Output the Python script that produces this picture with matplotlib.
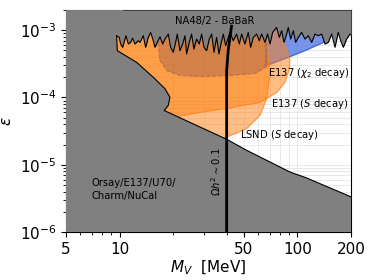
import numpy as np
import matplotlib
matplotlib.use("Agg")
import matplotlib.pyplot as plt
from matplotlib.ticker import FixedLocator, FixedFormatter, NullFormatter

# ---------------- data ----------------
# NA48/2 - BaBaR upper bound (jagged line)
na48_m = [9.63, 9.96, 10.14, 10.41, 10.73, 10.87, 11.20, 11.54, 11.84, 12.21, 12.74, 13.02,
          13.60, 14.02, 14.51, 14.95, 15.48, 15.82, 16.30, 16.87, 17.47, 18.0, 18.79, 19.37,
          20.05, 20.66, 21.11, 21.86, 22.63, 23.32, 23.83, 24.66, 25.42, 26.19, 27.12, 28.07,
          28.93, 29.82, 30.87, 31.95, 32.94, 33.95, 35.13, 36.21, 37.16, 38.30, 39.48, 41.75,
          43.59, 45.51, 47.1, 48.56, 50.69, 52.93, 54.55, 56.47, 58.96, 61.03, 62.9, 65.68,
          67.98, 70.07, 72.53, 76.38, 79.07, 81.5, 84.0, 86.94, 88.84, 91.6, 94.78, 97.7,
          101.1, 105.6, 110.2, 115.1, 120.2, 125.5, 131.0, 136.8, 142.8, 149.1, 155.7, 162.6,
          169.7, 174.9, 181.1, 189.1, 197.4, 200.0]
na48_eps = [8.29e-4, 7.83e-4, 6.24e-4, 5.57e-4, 7.40e-4, 8.29e-4, 6.24e-4, 6.60e-4, 7.65e-4,
            6.24e-4, 6.99e-4, 6.60e-4, 8.29e-4, 5.57e-4, 7.83e-4, 9.29e-4, 6.99e-4, 5.57e-4,
            6.60e-4, 8.0e-4, 6.24e-4, 7.40e-4, 8.77e-4, 5.57e-4, 4.70e-4, 6.60e-4, 8.77e-4,
            4.97e-4, 6.24e-4, 8.29e-4, 4.44e-4, 6.60e-4, 8.77e-4, 5.26e-4, 7.40e-4, 6.24e-4,
            8.77e-4, 5.57e-4, 4.97e-4, 7.40e-4, 8.77e-4, 4.70e-4, 7.83e-4, 4.44e-4, 6.24e-4,
            8.77e-4, 5.90e-4, 9.29e-4, 6.99e-4, 8.77e-4, 6.24e-4, 8.77e-4, 6.24e-4, 9.29e-4,
            5.57e-4, 7.83e-4, 8.77e-4, 6.99e-4, 8.77e-4, 6.60e-4, 8.77e-4, 6.24e-4, 9.29e-4,
            1.10e-3, 7.83e-4, 9.83e-4, 6.60e-4, 8.77e-4, 1.10e-3, 7.40e-4, 9.83e-4, 6.60e-4,
            7.83e-4, 9.29e-4, 7.40e-4, 8.29e-4, 6.60e-4, 8.77e-4, 8.29e-4, 8.77e-4, 6.24e-4,
            6.60e-4, 8.77e-4, 5.57e-4, 9.29e-4, 6.99e-4, 5.57e-4, 7.40e-4, 8.77e-4, 8.5e-4]

# Orsay/E137/U70/Charm/NuCal lower boundary
beam_m = [9.63, 9.71, 12.48, 15.47, 18.0, 19.2, 18.78, 17.83, 40.0, 51.8, 90.7, 112.5, 200.0]
beam_eps = [8.29e-4, 4.97e-4, 3.33e-4, 2.0e-4, 1.35e-4, 1.01e-4, 7.6e-5, 6.4e-5, 2.39e-5,
            1.64e-5, 7.8e-6, 6.37e-6, 3.33e-6]

# E137 (chi2 decay) region outline
e137chi_m = [9.0, 16.87, 19.96, 28.3, 40.0, 61.5, 76.6, 85.0, 89.5, 90.7, 87.2, 80.7, 74.7, 71.0, 9.0]
e137chi_eps = [1.4e-5, 4.56e-5, 5.06e-5, 6.0e-5, 6.87e-5, 8.43e-5, 1.19e-4, 1.67e-4, 2.51e-4,
               3.53e-4, 5.32e-4, 7.48e-4, 1.05e-3, 1.4e-3, 1.4e-3]

# E137 / LSND (S decay) region outline
sdec_m = [63.1, 63.9, 66.2, 68.2, 70.0, 67.1, 61.5, 51.8, 40.0, 36.7, 30.0, 9.0, 9.0]
sdec_eps = [1.4e-3, 1.09e-3, 6.98e-4, 4.19e-4, 2.12e-4, 9.57e-5, 5.41e-5, 3.44e-5, 2.58e-5,
            2.44e-5, 1.5e-5, 1.5e-5, 1.4e-3]

# dashed (darker) region
dash_m = [16.2, 16.4, 16.87, 18.4, 21.85, 28.3, 41.7, 57.7, 67.3, 66.5]
dash_eps = [1.2e-3, 7.48e-4, 3.53e-4, 2.51e-4, 2.12e-4, 2.05e-4, 2.12e-4, 2.27e-4, 2.88e-4, 1.4e-3]

# blue region lower boundary
blue_m = [65.6, 85.0, 110.1, 138.9, 148.3]
blue_eps = [2.93e-4, 3.79e-4, 4.97e-4, 6.53e-4, 7.48e-4]

# relic density line
relic_m = [40.0, 40.0, 40.8, 42.6]
relic_eps = [1e-6, 2.5e-4, 5e-4, 1.15e-3]

xticks = [5, 10, 50, 100, 200]
xticklabels = ["5", "10", "50", "100", "200"]

# ---------------- figure ----------------
fig = plt.figure(figsize=(3.74, 2.8), dpi=100)
ax = fig.add_axes([66/374, 1-232/280, 285/374, 222/280])
ax.set_xscale("log")
ax.set_yscale("log")
ax.set_xlim(5, 200)
ax.set_ylim(1e-6, 2e-3)

ax.grid(True, which="both", color="#e4e4e4", lw=0.6, zorder=0)
ax.set_axisbelow(True)

orange = "#ff7f0e"
# blue region
bm = blue_m + [blue_m[-1], blue_m[0]]
be = blue_eps + [1.4e-3, 1.4e-3]
ax.fill(bm, be, color="royalblue", alpha=0.7, lw=0, zorder=1)
ax.plot(blue_m, blue_eps, color="royalblue", lw=1.0, zorder=1.1)

ax.fill(e137chi_m, e137chi_eps, color=orange, alpha=0.5, lw=0, zorder=2)
ax.plot(e137chi_m, e137chi_eps, color=orange, lw=0.8, alpha=0.8, zorder=2)
ax.fill(sdec_m, sdec_eps, color=orange, alpha=0.5, lw=0, zorder=2.1)
ax.plot(sdec_m, sdec_eps, color=orange, lw=0.8, alpha=0.8, zorder=2.1)
ax.fill(dash_m, dash_eps, color="#8c564b", alpha=0.38, lw=0, zorder=2.2)
ax.plot(dash_m, dash_eps, color="#8c564b", lw=0.8, ls="--", alpha=0.5, zorder=2.2)

# grey excluded regions
ax.fill_between(na48_m, na48_eps, 2e-3, color="grey", lw=0, zorder=3)
ax.plot(na48_m, na48_eps, color="black", lw=0.8, zorder=3.1)
bm2 = [5.0, 10.5] + beam_m + [200.0, 5.0]
be2 = [2e-3, 2e-3] + beam_eps + [1e-6, 1e-6]
ax.fill(bm2, be2, color="grey", lw=0, zorder=3)
ax.plot(beam_m, beam_eps, color="black", lw=0.8, zorder=3.1)

ax.plot(relic_m, relic_eps, color="black", lw=2.0, zorder=4)

fs = 7.2
ax.text(34.4, 1.38e-3, "NA48/2 - BaBaR", fontsize=fs, ha="center", va="center", zorder=5)
ax.text(68.5, 2.34e-4, r"E137 ($\chi_2$ decay)", fontsize=fs, ha="left", va="center", zorder=5)
ax.text(70.6, 7.88e-5, r"E137 ($S$ decay)", fontsize=fs, ha="left", va="center", zorder=5)
ax.text(47.5, 2.74e-5, r"LSND ($S$ decay)", fontsize=fs, ha="left", va="center", zorder=5)
ax.text(6.97, 4.24e-6, "Orsay/E137/U70/\nCharm/NuCal", fontsize=fs, ha="left", va="center",
        linespacing=1.4, zorder=5)
ax.text(35.1, 7.8e-6, r"$\Omega h^2 \sim 0.1$", fontsize=fs, rotation=90,
        ha="center", va="center", zorder=5)

ax.xaxis.set_major_locator(FixedLocator(xticks))
ax.xaxis.set_major_formatter(FixedFormatter(xticklabels))
ax.xaxis.set_minor_formatter(NullFormatter())
ax.tick_params(labelsize=11)
ax.set_xlabel(r"$M_V$  [MeV]", fontsize=11, labelpad=1)
ax.set_ylabel(r"$\epsilon$", fontsize=11)

fig.savefig("out.png", dpi=100)
